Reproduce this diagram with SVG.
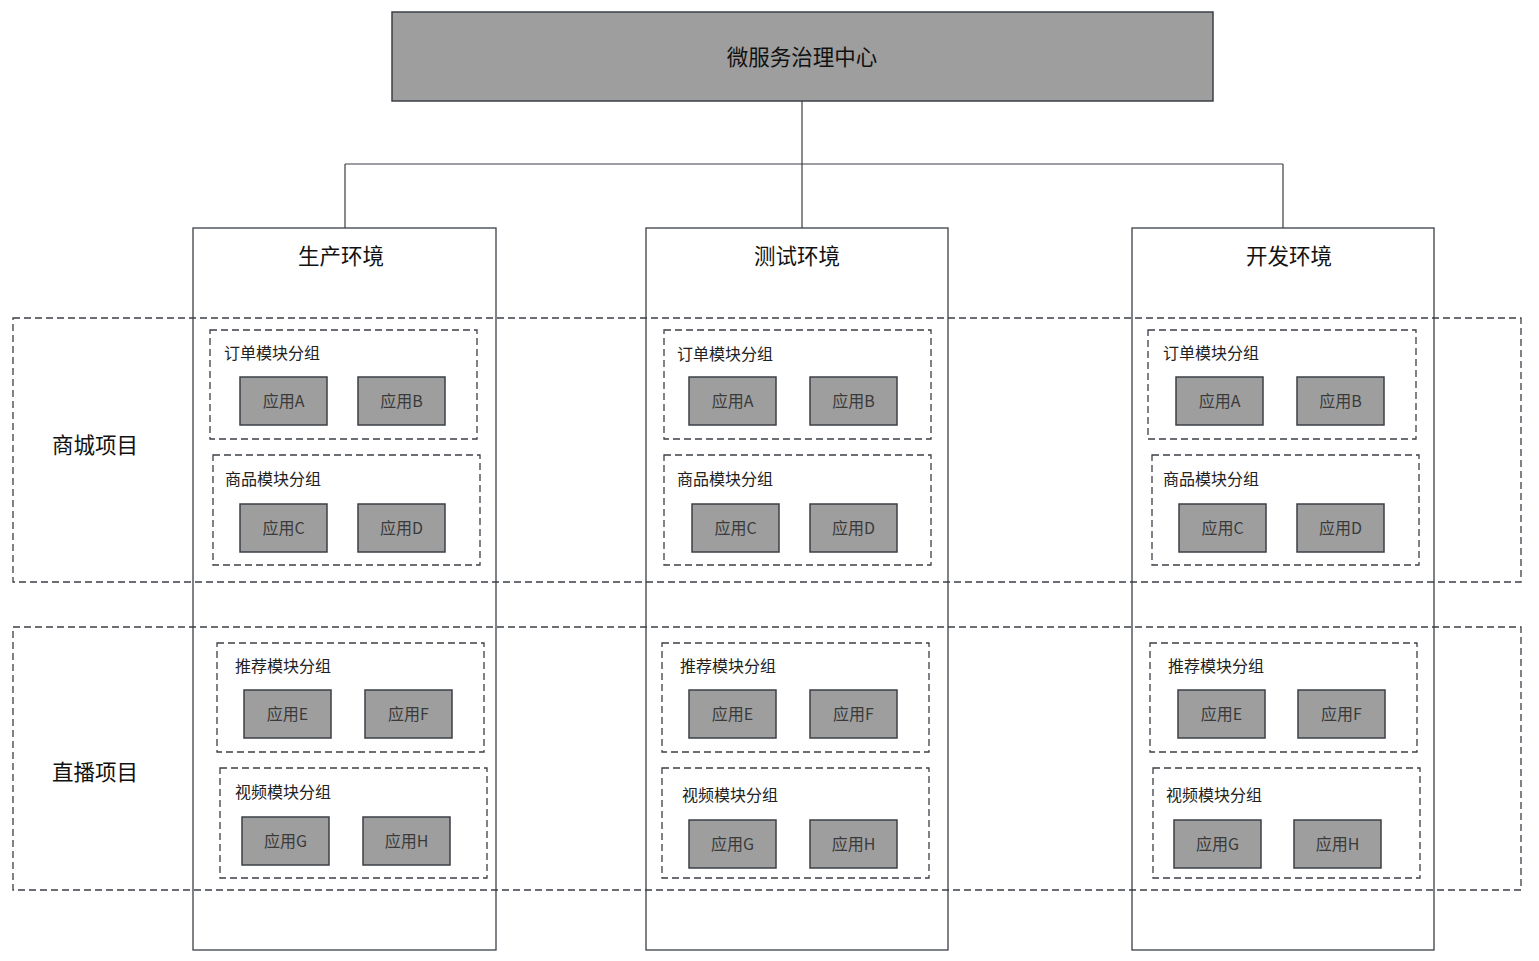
<svg xmlns="http://www.w3.org/2000/svg" width="1539" height="961" viewBox="0 0 1539 961">
<style>
text{font-family:"Noto Sans CJK SC","Liberation Sans",sans-serif;}
.solid{fill:#fff;stroke:#3b3f45;stroke-width:1.3}
.top{fill:#9e9e9e;stroke:#3b3f45;stroke-width:1.5}
.band{fill:none;stroke:#3b3f45;stroke-width:1.3;stroke-dasharray:7 4}
.grp{fill:none;stroke:#3b3f45;stroke-width:1.3;stroke-dasharray:7 4}
.app{fill:#9e9e9e;stroke:#3b3f45;stroke-width:1.5}
.big{font-size:21.5px;fill:#111;text-anchor:middle;dominant-baseline:central}
.gl{font-size:16px;fill:#222;dominant-baseline:central}
.al{font-size:16px;fill:#3a3a3a;text-anchor:middle;dominant-baseline:central}
.conn{fill:none;stroke:#3b3f45;stroke-width:1.2}
</style>
<rect width="1539" height="961" fill="#fff"/>
<g id="connectors">
<path class="conn" d="M802 101 V228 M345 164 H1283 M345 164 V228 M1283 164 V228"/>
</g>
<g id="center"><rect class="top" x="392" y="12" width="821" height="89"/><text class="big" x="802" y="55">微服务治理中心</text></g>
<g id="env-prod"><rect class="solid" x="193" y="228" width="303" height="722"/><text class="big" x="341" y="254">生产环境</text></g>
<g id="env-test"><rect class="solid" x="646" y="228" width="302" height="722"/><text class="big" x="797" y="254">测试环境</text></g>
<g id="env-dev"><rect class="solid" x="1132" y="228" width="302" height="722"/><text class="big" x="1289" y="254">开发环境</text></g>
<g id="proj-mall"><rect class="band" x="13" y="318" width="1508" height="264"/><text class="big" x="95" y="443">商城项目</text></g>
<g id="proj-live"><rect class="band" x="13" y="627" width="1508" height="263"/><text class="big" x="95" y="770">直播项目</text></g>

<g id="prod-order"><rect class="grp" x="210" y="330" width="267" height="109"/><text class="gl" x="224" y="352">订单模块分组</text>
<rect class="app" x="240" y="377" width="87" height="48"/><text class="al" x="283.5" y="400">应用A</text>
<rect class="app" x="358" y="377" width="87" height="48"/><text class="al" x="401.5" y="400">应用B</text></g>
<g id="prod-goods"><rect class="grp" x="213" y="455" width="267" height="110"/><text class="gl" x="225" y="478">商品模块分组</text>
<rect class="app" x="240" y="504" width="87" height="48"/><text class="al" x="283.5" y="527">应用C</text>
<rect class="app" x="358" y="504" width="87" height="48"/><text class="al" x="401.5" y="527">应用D</text></g>
<g id="prod-rec"><rect class="grp" x="217" y="643" width="267" height="109"/><text class="gl" x="235" y="665">推荐模块分组</text>
<rect class="app" x="244" y="690" width="87" height="48"/><text class="al" x="287.5" y="713">应用E</text>
<rect class="app" x="365" y="690" width="87" height="48"/><text class="al" x="408.5" y="713">应用F</text></g>
<g id="prod-video"><rect class="grp" x="220" y="768" width="267" height="110"/><text class="gl" x="235" y="791">视频模块分组</text>
<rect class="app" x="242" y="817" width="87" height="48"/><text class="al" x="285.5" y="840">应用G</text>
<rect class="app" x="363" y="817" width="87" height="48"/><text class="al" x="406.5" y="840">应用H</text></g>

<g id="test-order"><rect class="grp" x="664" y="330" width="267" height="109"/><text class="gl" x="677" y="353">订单模块分组</text>
<rect class="app" x="689" y="377" width="87" height="48"/><text class="al" x="732.5" y="400">应用A</text>
<rect class="app" x="810" y="377" width="87" height="48"/><text class="al" x="853.5" y="400">应用B</text></g>
<g id="test-goods"><rect class="grp" x="664" y="455" width="267" height="110"/><text class="gl" x="677" y="478">商品模块分组</text>
<rect class="app" x="692" y="504" width="87" height="48"/><text class="al" x="735.5" y="527">应用C</text>
<rect class="app" x="810" y="504" width="87" height="48"/><text class="al" x="853.5" y="527">应用D</text></g>
<g id="test-rec"><rect class="grp" x="662" y="643" width="267" height="109"/><text class="gl" x="680" y="665">推荐模块分组</text>
<rect class="app" x="689" y="690" width="87" height="48"/><text class="al" x="732.5" y="713">应用E</text>
<rect class="app" x="810" y="690" width="87" height="48"/><text class="al" x="853.5" y="713">应用F</text></g>
<g id="test-video"><rect class="grp" x="662" y="768" width="267" height="110"/><text class="gl" x="682" y="794">视频模块分组</text>
<rect class="app" x="689" y="820" width="87" height="48"/><text class="al" x="732.5" y="843">应用G</text>
<rect class="app" x="810" y="820" width="87" height="48"/><text class="al" x="853.5" y="843">应用H</text></g>

<g id="dev-order"><rect class="grp" x="1148" y="330" width="268" height="109"/><text class="gl" x="1163" y="352">订单模块分组</text>
<rect class="app" x="1176" y="377" width="87" height="48"/><text class="al" x="1219.5" y="400">应用A</text>
<rect class="app" x="1297" y="377" width="87" height="48"/><text class="al" x="1340.5" y="400">应用B</text></g>
<g id="dev-goods"><rect class="grp" x="1152" y="455" width="267" height="110"/><text class="gl" x="1163" y="478">商品模块分组</text>
<rect class="app" x="1179" y="504" width="87" height="48"/><text class="al" x="1222.5" y="527">应用C</text>
<rect class="app" x="1297" y="504" width="87" height="48"/><text class="al" x="1340.5" y="527">应用D</text></g>
<g id="dev-rec"><rect class="grp" x="1150" y="643" width="267" height="109"/><text class="gl" x="1168" y="665">推荐模块分组</text>
<rect class="app" x="1178" y="690" width="87" height="48"/><text class="al" x="1221.5" y="713">应用E</text>
<rect class="app" x="1298" y="690" width="87" height="48"/><text class="al" x="1341.5" y="713">应用F</text></g>
<g id="dev-video"><rect class="grp" x="1153" y="768" width="267" height="110"/><text class="gl" x="1166" y="794">视频模块分组</text>
<rect class="app" x="1174" y="820" width="87" height="48"/><text class="al" x="1217.5" y="843">应用G</text>
<rect class="app" x="1294" y="820" width="87" height="48"/><text class="al" x="1337.5" y="843">应用H</text></g>
</svg>
